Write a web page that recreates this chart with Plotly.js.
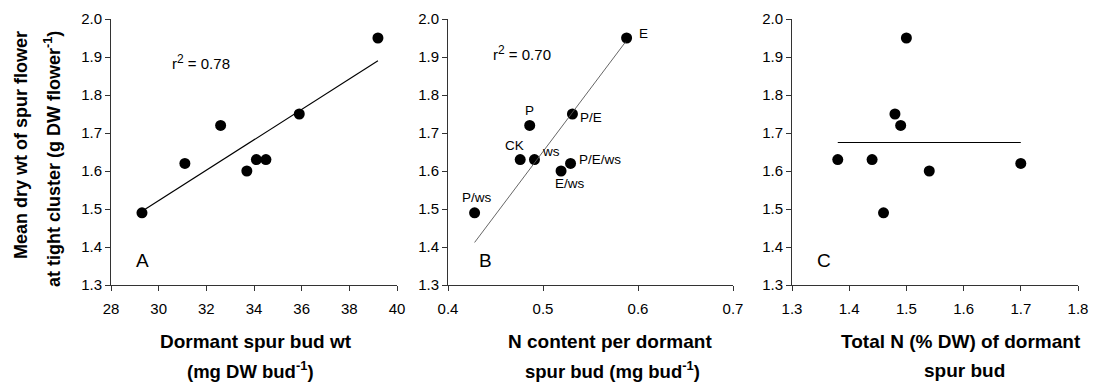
<!DOCTYPE html>
<html>
<head>
<meta charset="utf-8">
<script src="https://cdn.plot.ly/plotly-3.0.1.min.js"></script>
<style>html,body{margin:0;padding:0;background:#fff;}#chart{width:1093px;height:382px;}</style>
</head>
<body>
<div id="chart"></div>
<script>
// Treatments (same 8 treatments in every panel)
const treatments = ['CK', 'P', 'E', 'ws', 'P/E', 'P/ws', 'E/ws', 'P/E/ws'];
// Mean dry wt of spur flower at tight cluster (g DW flower-1)
const flowerWt = [1.63, 1.72, 1.95, 1.63, 1.75, 1.49, 1.60, 1.62];
// Panel A: dormant spur bud wt (mg DW bud-1)
const budWt = [34.5, 32.6, 39.2, 34.1, 35.9, 29.3, 33.7, 31.1];
// Panel B: N content per dormant spur bud (mg bud-1)
const budN = [0.476, 0.486, 0.588, 0.491, 0.531, 0.428, 0.519, 0.529];
// Panel C: total N (% DW) of dormant spur bud
const totalN = [1.38, 1.49, 1.50, 1.44, 1.48, 1.46, 1.54, 1.70];

// Regression lines (end points)
const fitA_x = [29.3, 39.2], fitA_y = [1.494, 1.89];
const fitB_x = [0.428, 0.587], fitB_y = [1.412, 1.94];
const fitC_x = [1.38, 1.70], fitC_y = [1.675, 1.675];

const r2Values = ['0.78', '0.70'];
const panelLetters = ['A', 'B', 'C'];

// label offsets in px for panel B (position info, kept separate from data)
const labelShift = {
  'CK': [-6, 14], 'P': [0, 15], 'E': [17, 4], 'ws': [17, 8],
  'P/E': [19, -4], 'P/ws': [2, 15], 'E/ws': [9, -12], 'P/E/ws': [29, 4]
};

const FONT = 'Liberation Sans, Arial, sans-serif';
const W = 1093, H = 382;
const yTop = 1 - 19 / H, yBot = 1 - 285 / H;

const marker = {size: 11, color: '#000'};
const traces = [
  {x: budWt, y: flowerWt, mode: 'markers', type: 'scatter', marker: marker, xaxis: 'x', yaxis: 'y', text: treatments, hoverinfo: 'x+y+text'},
  {x: fitA_x, y: fitA_y, mode: 'lines', type: 'scatter', line: {color: '#000', width: 1.2}, xaxis: 'x', yaxis: 'y'},
  {x: budN, y: flowerWt, mode: 'markers', type: 'scatter', marker: marker, xaxis: 'x2', yaxis: 'y2', text: treatments, hoverinfo: 'x+y+text'},
  {x: fitB_x, y: fitB_y, mode: 'lines', type: 'scatter', line: {color: '#555', width: 0.9}, xaxis: 'x2', yaxis: 'y2'},
  {x: totalN, y: flowerWt, mode: 'markers', type: 'scatter', marker: marker, xaxis: 'x3', yaxis: 'y3', text: treatments, hoverinfo: 'x+y+text'},
  {x: fitC_x, y: fitC_y, mode: 'lines', type: 'scatter', line: {color: '#000', width: 1.2}, xaxis: 'x3', yaxis: 'y3'}
];

function xax(dom, range, dtick, fmt) {
  return {
    domain: dom, range: range, dtick: dtick, tick0: range[0], tickformat: fmt,
    showline: true, linecolor: '#333', linewidth: 1, showgrid: false, zeroline: false,
    ticks: 'outside', ticklen: 5, tickcolor: '#333', tickwidth: 1,
    tickfont: {family: FONT, size: 15, color: '#000'}, ticklabelstandoff: 5, fixedrange: true
  };
}
function yax(anchor) {
  return {
    domain: [yBot, yTop], range: [1.3, 2.0], dtick: 0.1, tick0: 1.3, tickformat: '.1f', anchor: anchor,
    showline: true, linecolor: '#333', linewidth: 1, showgrid: false, zeroline: false,
    ticks: 'outside', ticklen: 5, tickcolor: '#333', tickwidth: 1,
    tickfont: {family: FONT, size: 15, color: '#000'}, fixedrange: true
  };
}

const annotations = [];
// r² labels
function r2(v) { return 'r<sup><span style="font-size:12px">2</span></sup> = ' + v; }
annotations.push({xref: 'x', yref: 'y', x: 30.48, y: 1.888, xanchor: 'left', yanchor: 'middle', text: r2(r2Values[0]), showarrow: false, font: {family: FONT, size: 15, color: '#000'}});
annotations.push({xref: 'x2', yref: 'y2', x: 0.445, y: 1.911, xanchor: 'left', yanchor: 'middle', text: r2(r2Values[1]), showarrow: false, font: {family: FONT, size: 15, color: '#000'}});
// panel letters
const letterX = [29.34, 0.439, 1.356];
['x', 'x2', 'x3'].forEach((xr, i) => {
  annotations.push({xref: xr, yref: 'y' + (i ? i + 1 : ''), x: letterX[i], y: 1.364, text: panelLetters[i], showarrow: false,
    xanchor: 'center', yanchor: 'middle', font: {family: FONT, size: 19, color: '#000'}});
});
// point labels on panel B
treatments.forEach((t, i) => {
  const s = labelShift[t];
  annotations.push({xref: 'x2', yref: 'y2', x: budN[i], y: flowerWt[i], text: t, showarrow: false,
    xanchor: 'center', yanchor: 'middle', xshift: s[0], yshift: s[1], font: {family: FONT, size: 13.5, color: '#000'}});
});
// axis titles (two lines each)
function tl(px, py, text, angle, size) {
  annotations.push({xref: 'paper', yref: 'paper', x: px / W, y: 1 - py / H, text: '<b>' + text + '</b>', showarrow: false,
    xanchor: 'center', yanchor: 'middle', textangle: angle || 0,
    font: {family: FONT, size: size || 18, color: '#000', weight: 'bold'}});
}
tl(256, 341, 'Dormant spur bud wt', 0, 19);
tl(250, 370, '(mg DW bud<sup>-1</sup>)', 0, 18.5);
tl(610, 341, 'N content per dormant', 0, 19);
tl(612, 370, 'spur bud (mg bud<sup>-1</sup>)', 0, 18.5);
tl(961, 341, 'Total N (% DW) of dormant', 0, 19);
tl(964, 370, 'spur bud', 0, 19);
tl(21, 145, 'Mean dry wt of spur flower', -90, 18);
tl(52, 159, 'at tight cluster (g DW flower<sup>-1</sup>)', -90, 18);

const layout = {
  width: W, height: H, margin: {l: 0, r: 0, t: 0, b: 0},
  paper_bgcolor: '#fff', plot_bgcolor: '#fff', showlegend: false,
  font: {family: FONT, color: '#000'},
  xaxis: Object.assign(xax([111 / W, 397 / W], [28, 40], 2, 'd'), {anchor: 'y'}),
  yaxis: yax('x'),
  xaxis2: Object.assign(xax([448 / W, 733 / W], [0.4, 0.7], 0.1, '.1f'), {anchor: 'y2'}),
  yaxis2: yax('x2'),
  xaxis3: Object.assign(xax([792 / W, 1078 / W], [1.3, 1.8], 0.1, '.1f'), {anchor: 'y3'}),
  yaxis3: yax('x3'),
  annotations: annotations
};

Plotly.newPlot('chart', traces, layout, {displayModeBar: false, staticPlot: true});
</script>
</body>
</html>
